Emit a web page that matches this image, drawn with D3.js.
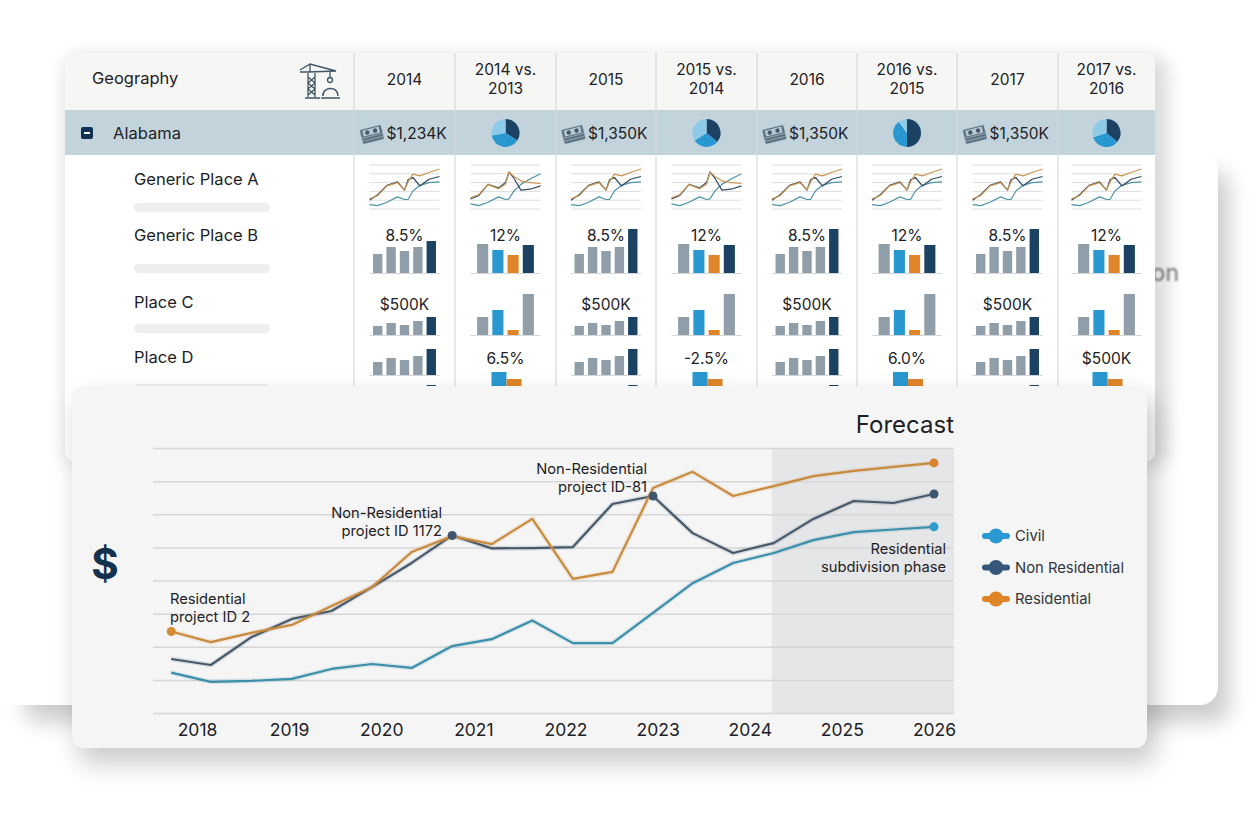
<!DOCTYPE html>
<html>
<head>
<meta charset="utf-8">
<script src="https://cdn.jsdelivr.net/npm/d3@7"></script>
<style>
  html, body { margin: 0; padding: 0; background: #fff; overflow: hidden; }
  text { font-family: Inter, "Noto Sans", sans-serif; fill: #1d2125; }
</style>
</head>
<body>
<svg id="svgChart" width="1256" height="832"></svg>
<script>
// table data
var columnLabels = [["2014"], ["2014 vs.", "2013"], ["2015"], ["2015 vs.", "2014"], ["2016"], ["2016 vs.", "2015"], ["2017"], ["2017 vs.", "2016"]];
var placeLabels = ["Generic Place A", "Generic Place B", "Place C", "Place D"];
var alabamaTotals = ["$1,234K", "$1,350K", "$1,350K", "$1,350K"];
var alabamaPies = [[34, 38, 28], [36, 30, 34], [50, 40, 10], [36, 34, 30]];
var rowBLabels = ["8.5%", "12%", "8.5%", "12%", "8.5%", "12%", "8.5%", "12%"];
var rowCLabels = ["$500K", "", "$500K", "", "$500K", "", "$500K", ""];
var rowDLabels = ["", "6.5%", "", "-2.5%", "", "6.0%", "", "$500K"];

var rowBFive = [19, 26, 22, 26, 32];
var rowBFiveTall = [19, 26, 22, 26, 44];
var rowBFour = [29, 23, 18, 28];
var rowCFive = [9, 12, 10, 14, 18];
var rowCFour = [18, 25, 5, 41];
var rowDFive = [13, 17, 15, 19, 26];
var rowDFour = [28, 21];
var rowEFive = [5, 5, 5, 5, 15];

var sparkTimes = [0, 0.12, 0.25, 0.4, 0.5, 0.55, 0.62, 0.72, 0.85, 1];
var sparkResA = [1.15, 1.54, 2.62, 3.0, 2.15, 3.08, 3.96, 3.77, 4.15, 4.54];
var sparkNonA = [1.0, 1.65, 2.69, 3.08, 2.15, 3.31, 3.58, 2.62, 3.38, 3.69];
var sparkCivA = [0.5, 0.38, 0.77, 1.38, 1.08, 1.08, 2.04, 2.69, 3.0, 3.08];
var sparkResB = [1.27, 1.65, 2.8, 2.3, 2.8, 4.2, 3.7, 3.2, 3.0, 2.9];
var sparkNonB = [1.15, 1.54, 2.8, 2.4, 3.0, 4.2, 3.5, 2.15, 2.25, 2.62];
var sparkCivB = [0.58, 0.38, 0.77, 1.38, 1.08, 1.15, 2.04, 2.8, 3.4, 4.0];

// forecast chart data (year position, $M)
var chartTimes = [2017.72, 2018.15, 2018.59, 2019.03, 2019.46, 2019.9, 2020.33, 2020.77, 2021.2, 2021.64, 2022.08, 2022.51, 2022.95, 2023.38, 2023.82, 2024.26, 2024.69, 2025.13, 2025.56, 2026];
var civil = [1.22, 0.94, 0.97, 1.03, 1.33, 1.48, 1.36, 2.02, 2.23, 2.79, 2.11, 2.11, 3.02, 3.92, 4.53, 4.83, 5.22, 5.46, 5.54, 5.62];
var nonResidential = [1.63, 1.45, 2.29, 2.84, 3.08, 3.8, 4.53, 5.36, 4.97, 4.98, 5.01, 6.31, 6.55, 5.43, 4.83, 5.13, 5.86, 6.4, 6.34, 6.61];
var residential = [2.46, 2.14, 2.42, 2.66, 3.23, 3.8, 4.86, 5.34, 5.1, 5.86, 4.05, 4.26, 6.79, 7.28, 6.55, 6.85, 7.15, 7.31, 7.43, 7.55];
var yearTicks = [2018, 2019, 2020, 2021, 2022, 2023, 2024, 2025, 2026];
var legendLabels = ["Civil", "Non Residential", "Residential"];
var forecastStart = 2024.24;

var GREY = "#8f9ea8", NAVY = "#1b4163", BLUE = "#2a98d0", ORANGE = "#e08428";
var columnEdges = [354, 455, 556, 656, 757, 857, 957, 1058, 1155];

var svg = d3.select("#svgChart");
var defs = svg.append("defs");

function addBlur(id, amount) {
  defs.append("filter").attr("id", id)
      .attr("x", "-15%").attr("y", "-15%").attr("width", "130%").attr("height", "130%")
    .append("feGaussianBlur").attr("stdDeviation", amount);
}
addBlur("backShadow", 11);
addBlur("tableShadow", 9);
addBlur("chartShadow", 13);
addBlur("blurText", 1.3);

function shadowRect(x, y, w, h, id, opacity) {
  svg.append("rect").attr("x", x).attr("y", y).attr("width", w).attr("height", h)
      .attr("rx", 14).attr("fill", "#000").attr("opacity", opacity).attr("filter", "url(#" + id + ")");
}

// back card, shadow only falls right and below
shadowRect(25, 172, 1204, 550, "backShadow", 0.2);
svg.append("rect").attr("x", -40).attr("y", 150).attr("width", 1258).attr("height", 555)
    .attr("rx", 18).attr("fill", "#fff");
svg.append("text").attr("x", 1179).attr("y", 281).attr("text-anchor", "end")
    .attr("font-size", 23).attr("filter", "url(#blurText)").style("fill", "#777").text("on");

// table card
shadowRect(65, 56, 1103, 410, "tableShadow", 0.14);
var table = svg.append("g");
table.append("rect").attr("x", 65).attr("y", 53).attr("width", 1090).attr("height", 409)
    .attr("rx", 10).attr("fill", "#fff");
table.append("path").attr("d", "M65,110V63a10,10 0 0 1 10,-10H1145a10,10 0 0 1 10,10V110Z").attr("fill", "#f6f6f4");
table.append("rect").attr("x", 65).attr("y", 110).attr("width", 1090).attr("height", 45).attr("fill", "#c3d3dc");

table.selectAll("line.col").data(columnEdges.slice(0, 8)).enter().append("line")
    .attr("class", "col")
    .attr("x1", function(d) { return d; }).attr("x2", function(d) { return d; })
    .attr("y1", 53).attr("y2", 390)
    .attr("stroke", "#d6dbde").attr("stroke-width", 1.2);

table.append("text").attr("x", 92).attr("y", 84).attr("font-size", 16.5).text("Geography");

// crane + helmet icon
var crane = table.append("g").attr("fill", "none").attr("stroke", "#3f5666").attr("stroke-width", 1.3);
crane.append("path").attr("d", "M300,70L310,64L336,71L308,72H300M310,64V72M308,73V97M315,73V97M305,98H320M308,77L315,83L308,89L315,95M315,77L308,83L315,89L308,95M330,71V77");
crane.append("circle").attr("cx", 330).attr("cy", 80).attr("r", 2.5);
crane.append("path").attr("d", "M323,96C322,87 338,85 338,96M321,98H340").attr("stroke-width", 1.5);

// minus box and Alabama
table.append("rect").attr("x", 81).attr("y", 127).attr("width", 12).attr("height", 12).attr("rx", 2).attr("fill", "#12304f");
table.append("rect").attr("x", 84).attr("y", 132).attr("width", 6).attr("height", 2).attr("fill", "#fff");
table.append("text").attr("x", 113).attr("y", 139).attr("font-size", 16.5).text("Alabama");

// place labels and grey pills
var placeY = [185, 241, 308, 363];
var pillY = [203, 264, 324, 384];
table.selectAll("text.place").data(placeLabels).enter().append("text")
    .attr("class", "place").attr("x", 134)
    .attr("y", function(d, i) { return placeY[i]; })
    .attr("font-size", 16.5).text(function(d) { return d; });
table.selectAll("rect.pill").data(pillY).enter().append("rect")
    .attr("class", "pill").attr("x", 134).attr("width", 136).attr("height", 9).attr("rx", 4.5)
    .attr("y", function(d) { return d; }).attr("fill", "#eeeeee");

var pie = d3.pie().sort(null).value(function(d) { return d; });
var arc = d3.arc().innerRadius(0).outerRadius(14);
var pieColors = [NAVY, BLUE, "#8fcbe9"];

// stack of bills
function drawMoney(g, x) {
  var m = g.append("g").attr("transform", "translate(" + x + ",133) rotate(-14)");
  [6, 3, 0].forEach(function(off) {
    m.append("rect").attr("x", -11).attr("y", off - 6).attr("width", 22).attr("height", 9).attr("rx", 1.5)
        .attr("fill", "#5b7180").attr("stroke", "#c3d3dc").attr("stroke-width", 0.5);
  });
  m.append("rect").attr("x", -8.5).attr("y", -4.5).attr("width", 17).attr("height", 6).attr("fill", "#b9c8d0");
  m.append("circle").attr("cx", -4).attr("cy", -1.5).attr("r", 2.2).attr("fill", "#43596a");
  m.append("circle").attr("cx", 4).attr("cy", -1.5).attr("r", 2.2).attr("fill", "#43596a");
}

function drawBars(g, cx, base, values, colors) {
  var x = d3.scaleBand().domain(d3.range(values.length)).range([cx - 32, cx + 32]).paddingInner(0.3).paddingOuter(0.04);
  if (values.length === 4) x.range([cx - 29, cx + 29]).paddingInner(0.27);
  var y = d3.scaleLinear().domain([0, 50]).range([base, base - 50]);
  g.append("line").attr("x1", cx - 35).attr("x2", cx + 35).attr("y1", base + 0.5).attr("y2", base + 0.5)
      .attr("stroke", "#d4d7d9").attr("stroke-width", 1);
  g.selectAll(null).data(values).enter().append("rect")
      .attr("x", function(d, i) { return x(i); })
      .attr("width", x.bandwidth())
      .attr("y", function(d) { return y(d); })
      .attr("height", function(d) { return y(0) - y(d); })
      .attr("fill", function(d, i) { return colors[i]; });
}

function drawSpark(g, cx, res, non, civ) {
  var x = d3.scaleLinear().domain([0, 1]).range([cx - 35, cx + 35]);
  var y = d3.scaleLinear().domain([0, 5]).range([209, 165]);
  g.selectAll(null).data(d3.range(0, 6)).enter().append("line")
      .attr("x1", cx - 35).attr("x2", cx + 35)
      .attr("y1", function(d) { return y(d); }).attr("y2", function(d) { return y(d); })
      .attr("stroke", "#dedede").attr("stroke-width", 1);
  [[civ, "#4f93a8"], [non, "#2f4a64"], [res, "#c99650"]].forEach(function(s) {
    var line = d3.line().x(function(d, i) { return x(sparkTimes[i]); }).y(function(d) { return y(d); });
    g.append("path").datum(s[0]).attr("fill", "none").attr("stroke", s[1])
        .attr("stroke-width", 1.2).attr("stroke-linejoin", "round").attr("d", line);
  });
}

function cellLabel(g, cx, y, label) {
  g.append("text").attr("x", cx).attr("y", y).attr("text-anchor", "middle").attr("font-size", 15.5).text(label);
}

var fiveColors = [GREY, GREY, GREY, GREY, NAVY];
var fourColors = [GREY, BLUE, ORANGE, NAVY];
var fourTallColors = [GREY, BLUE, ORANGE, GREY];

columnLabels.forEach(function(lines, c) {
  var cx = (columnEdges[c] + columnEdges[c + 1]) / 2;
  var cell = table.append("g");
  var isValue = c % 2 === 0;
  var startY = lines.length === 1 ? 85 : 75;
  lines.forEach(function(t, i) {
    cell.append("text").attr("x", cx).attr("y", startY + i * 19).attr("text-anchor", "middle").attr("font-size", 15.5).text(t);
  });

  if (isValue) {
    drawMoney(cell, cx - 33);
    cell.append("text").attr("x", cx - 18).attr("y", 139).attr("font-size", 15.5).text(alabamaTotals[c / 2]);
  } else {
    cell.append("g").attr("transform", "translate(" + cx + ",133)")
      .selectAll("path").data(pie(alabamaPies[(c - 1) / 2])).enter().append("path")
      .attr("d", arc).attr("fill", function(d, i) { return pieColors[i]; });
  }

  if (c === 1 || c === 3) drawSpark(cell, cx, sparkResB, sparkNonB, sparkCivB);
  else drawSpark(cell, cx, sparkResA, sparkNonA, sparkCivA);

  cellLabel(cell, cx, 241, rowBLabels[c]);
  if (rowCLabels[c]) cellLabel(cell, cx, 310, rowCLabels[c]);
  if (rowDLabels[c]) cellLabel(cell, cx, 364, rowDLabels[c]);

  if (isValue) {
    drawBars(cell, cx, 273, c === 0 ? rowBFive : rowBFiveTall, fiveColors);
    drawBars(cell, cx, 335, rowCFive, fiveColors);
    drawBars(cell, cx, 375, rowDFive, fiveColors);
    drawBars(cell, cx, 400, rowEFive, fiveColors);
  } else {
    drawBars(cell, cx, 273, rowBFour, fourColors);
    drawBars(cell, cx, 335, rowCFour, fourTallColors);
    var x2 = d3.scaleBand().domain([0, 1]).range([cx - 14, cx + 16]);
    var y2 = d3.scaleLinear().domain([0, 50]).range([400, 350]);
    cell.selectAll(null).data(rowDFour).enter().append("rect")
        .attr("x", function(d, i) { return x2(i); }).attr("width", x2.bandwidth())
        .attr("y", function(d) { return y2(d); }).attr("height", function(d) { return y2(0) - y2(d); })
        .attr("fill", function(d, i) { return i ? ORANGE : BLUE; });
  }
});

// forecast chart card
shadowRect(78, 398, 1078, 366, "chartShadow", 0.2);
svg.append("rect").attr("x", 72).attr("y", 386).attr("width", 1075).attr("height", 362)
    .attr("rx", 12).attr("fill", "#f5f5f5");

var margin = { left: 153, right: 954, top: 448, bottom: 713 };
var x = d3.scaleLinear().domain([2018, 2026]).range([197, 934]);
var y = d3.scaleLinear().domain([0, 8]).range([margin.bottom, margin.top]);
var g = svg.append("g");

g.append("rect").attr("x", x(forecastStart)).attr("y", margin.top)
    .attr("width", margin.right - x(forecastStart)).attr("height", margin.bottom - margin.top)
    .attr("fill", "#e5e6e8");

var gridAxis = g.append("g").attr("transform", "translate(" + margin.left + ",0)")
    .call(d3.axisLeft(y).ticks(8).tickSize(-(margin.right - margin.left)).tickFormat(""));
gridAxis.select(".domain").remove();
gridAxis.selectAll("line").attr("stroke", "#d6d6d6").attr("stroke-width", 1.5);

var xAxis = g.append("g").attr("transform", "translate(0," + margin.bottom + ")")
    .call(d3.axisBottom(x).tickValues(yearTicks).tickSize(0).tickPadding(11).tickFormat(d3.format("d")));
xAxis.select(".domain").remove();
xAxis.selectAll("text").attr("font-size", 17.5).style("font-family", "Inter, sans-serif").style("fill", "#1d2125");

var line = d3.line()
    .x(function(d, i) { return x(chartTimes[i]); })
    .y(function(d) { return y(d); });

var seriesList = [
  { values: civil, stroke: "#3b8fa9", legend: BLUE },
  { values: nonResidential, stroke: "#46586a", legend: "#35587a" },
  { values: residential, stroke: "#c88a3e", legend: ORANGE }
];

seriesList.forEach(function(s) {
  g.append("path").datum(s.values).attr("fill", "none").attr("stroke", s.stroke)
      .attr("stroke-opacity", 0.15).attr("stroke-width", 5).attr("d", line);
  g.append("path").datum(s.values).attr("fill", "none").attr("stroke", s.stroke)
      .attr("stroke-width", 2.2).attr("stroke-linejoin", "round").attr("d", line);
});

// marked points
var markers = [
  [0, residential, "#d68d35"], [7, nonResidential, "#3d566e"], [12, nonResidential, "#3d566e"],
  [19, residential, "#d9822f"], [19, nonResidential, "#3d566e"], [19, civil, "#2f9bc9"]
];
g.selectAll("circle.marker").data(markers).enter().append("circle")
    .attr("class", "marker").attr("r", 4.5)
    .attr("cx", function(d) { return x(chartTimes[d[0]]); })
    .attr("cy", function(d) { return y(d[1][d[0]]); })
    .attr("fill", function(d) { return d[2]; });

function note(lines, xx, yy, anchor) {
  lines.forEach(function(t, i) {
    g.append("text").attr("x", xx).attr("y", yy + i * 17.5).attr("text-anchor", anchor).attr("font-size", 14.7).text(t);
  });
}
note(["Residential", "project ID 2"], 170, 604, "start");
note(["Non-Residential", "project ID 1172"], 442, 518, "end");
note(["Non-Residential", "project ID-81"], 647, 474, "end");
note(["Residential", "subdivision phase"], 946, 554, "end");

g.append("text").attr("x", 954).attr("y", 433).attr("text-anchor", "end").attr("font-size", 24).text("Forecast");
g.append("text").attr("x", 105).attr("y", 579).attr("text-anchor", "middle")
    .attr("font-size", 42).attr("font-weight", 700).style("fill", "#12324f").text("$");

// legend
var legendY = d3.scalePoint().domain(legendLabels).range([536, 599]);
var legend = g.selectAll("g.legend").data(legendLabels).enter().append("g")
    .attr("class", "legend")
    .attr("transform", function(d) { return "translate(996," + legendY(d) + ")"; });
legend.append("line").attr("x1", -11).attr("x2", 11)
    .attr("stroke", function(d, i) { return seriesList[i].legend; }).attr("stroke-width", 6).attr("stroke-linecap", "round");
legend.append("circle").attr("r", 7.5).attr("fill", function(d, i) { return seriesList[i].legend; });
legend.append("text").attr("x", 19).attr("y", 5).attr("font-size", 14.8).style("fill", "#30363b").text(function(d) { return d; });
</script>
</body>
</html>
